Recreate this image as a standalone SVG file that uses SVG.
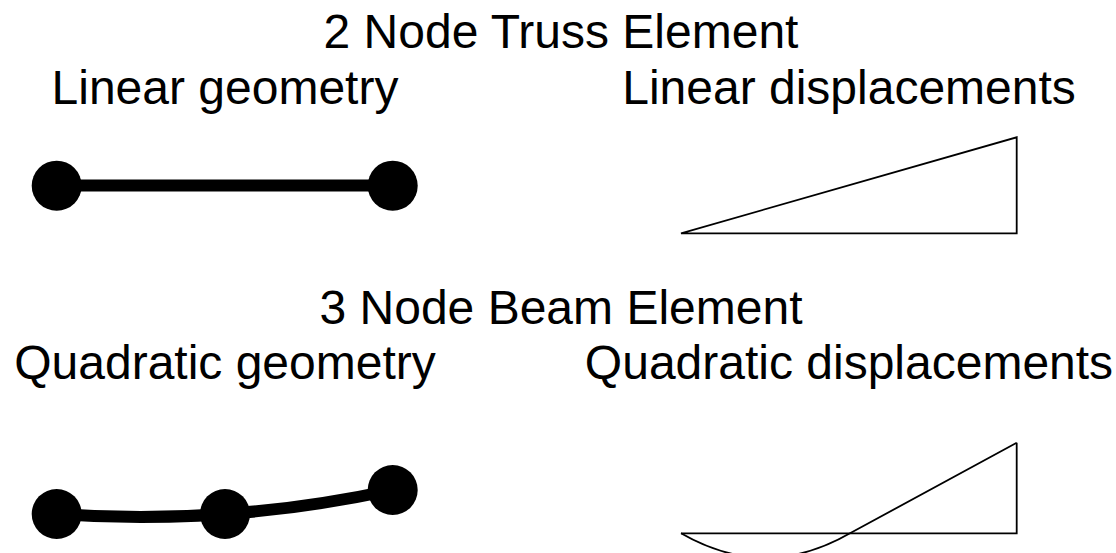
<svg xmlns="http://www.w3.org/2000/svg" width="1116" height="553" viewBox="0 0 1116 553">
  <style>
    .t { font-family: "Liberation Sans", Arial, sans-serif; font-size: 48px; fill: #000; text-anchor: middle; }
    .node { fill: #000; }
    .bar { fill: none; stroke: #000; stroke-width: 12; }
    .disp { fill: none; stroke: #000; stroke-width: 1.8; stroke-linejoin: miter; }
  </style>
  <rect width="1116" height="553" fill="#fff"/>

  <g id="labels">
    <text class="t" x="561" y="48">2 Node Truss Element</text>
    <text class="t" x="225" y="104">Linear geometry</text>
    <text class="t" x="849" y="104">Linear displacements</text>
    <text class="t" x="561" y="324">3 Node Beam Element</text>
    <text class="t" x="225" y="379">Quadratic geometry</text>
    <text class="t" x="849" y="379">Quadratic displacements</text>
  </g>

  <g id="connectors">
    <line class="bar" x1="57" y1="185.5" x2="393" y2="185.5"/>
    <path class="bar" d="M56.7,514 Q224.7,526 392.7,490"/>
  </g>

  <g id="truss-node-1"><circle class="node" cx="56.7" cy="185.7" r="25"/></g>
  <g id="truss-node-2"><circle class="node" cx="392.7" cy="185.7" r="25"/></g>

  <g id="beam-node-1"><circle class="node" cx="56.7" cy="514" r="25"/></g>
  <g id="beam-node-2"><circle class="node" cx="225" cy="514" r="25"/></g>
  <g id="beam-node-3"><circle class="node" cx="392.7" cy="490" r="25"/></g>

  <g id="linear-displacement">
    <path class="disp" d="M681,233.3 L1016.7,137.3 L1016.7,233.3 Z"/>
  </g>

  <g id="quadratic-displacement">
    <path class="disp" d="M681,533.3 L1016.7,533.3 L1016.7,442.7"/>
    <path class="disp" d="M681,533.3 Q765.5,582 850,533.3 Q930,490 1016.7,442.7"/>
  </g>
</svg>
